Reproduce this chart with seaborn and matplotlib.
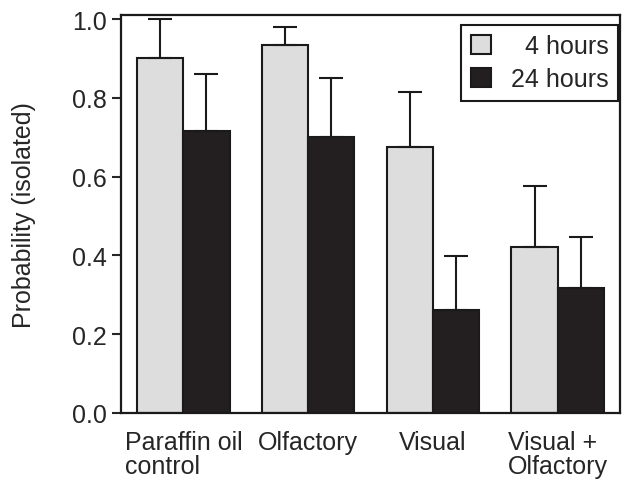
import matplotlib
matplotlib.use("Agg")
import matplotlib.pyplot as plt
import seaborn as sns
import pandas as pd

conditions = ["Paraffin oil\ncontrol", "Olfactory", "Visual", "Visual +\nOlfactory"]
groups = ["4 hours", "24 hours"]
p_4h = [0.900, 0.935, 0.676, 0.421]
p_24h = [0.716, 0.701, 0.262, 0.317]
err_4h = [0.100, 0.046, 0.138, 0.156]
err_24h = [0.145, 0.150, 0.137, 0.131]
yticks = [0.0, 0.2, 0.4, 0.6, 0.8, 1.0]
ylabel = "Probability (isolated)"

sns.set_theme(style="white")
plt.rcParams["font.family"] = ["Liberation Sans", "DejaVu Sans"]

df = pd.DataFrame({
    "condition": conditions * 2,
    "group": [groups[0]] * 4 + [groups[1]] * 4,
    "p": p_4h + p_24h,
})

fig = plt.figure(figsize=(6.22, 4.81), dpi=100)
ax = fig.add_axes([0.1945, 0.1393, 0.8023, 0.8274])

colors = {"4 hours": "#dddddd", "24 hours": "#231f20"}
sns.barplot(data=df, x="condition", y="p", hue="group", order=conditions,
            hue_order=groups, palette=colors, width=0.74, gap=0,
            edgecolor="#1a1a1a", linewidth=1.5, errorbar=None, ax=ax,
            legend=False, saturation=1)

errs = [err_4h, err_24h]
vals = [p_4h, p_24h]
for cont, e, v in zip(ax.containers, errs, vals):
    xs = [pt.get_x() + pt.get_width() / 2 for pt in cont]
    ax.errorbar(xs, v, yerr=[[0] * len(e), e], fmt="none", ecolor="#1a1a1a",
                elinewidth=1.5, capsize=8.6, capthick=1.5, zorder=1)

fs = 18
ax.set_ylim(0, 1.0102)
ax.set_xlim(-0.5, 3.5)
ax.set_yticks(yticks)
ax.set_yticklabels([f"{t:.1f}" for t in yticks])
ax.set_xlabel("")
ax.set_ylabel(ylabel, fontsize=fs, labelpad=26)
ax.tick_params(axis="y", length=6.5, width=1.5, pad=3.5, labelsize=fs, direction="out", left=True)
ax.tick_params(axis="x", length=0, pad=12, labelsize=fs)
for t in ax.get_xticklabels():
    t.set_multialignment("left")
    t.set_linespacing(1.0)
    t.set_verticalalignment("top")
for s in ax.spines.values():
    s.set_visible(True)
    s.set_color("#1a1a1a")
    s.set_linewidth(1.6)

handles = [ax.containers[0], ax.containers[1]]
leg = ax.legend(handles, ["  4 hours", "24 hours"], loc="upper right",
                bbox_to_anchor=(0.996, 0.975), borderaxespad=0, fontsize=fs,
                frameon=True, fancybox=False, handlelength=0.8, handleheight=0.8,
                handletextpad=0.8, borderpad=0.38, labelspacing=0.35)
leg.get_frame().set_edgecolor("#1a1a1a")
leg.get_frame().set_linewidth(1.5)
leg.get_frame().set_alpha(1)

fig.savefig("out.png", dpi=100)
